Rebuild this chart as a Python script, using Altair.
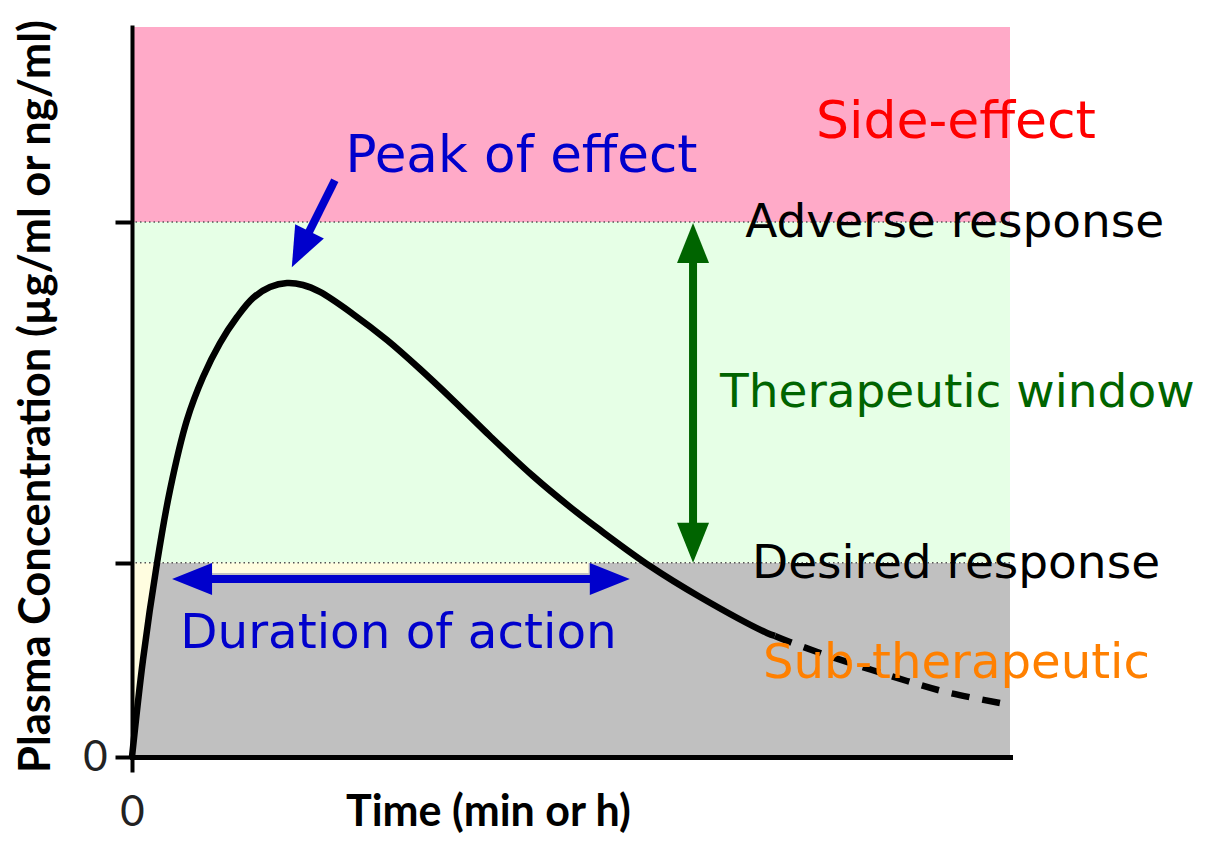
import altair as alt
import pandas as pd

# ---------------- data (arbitrary units 0-100) ----------------
time_solid = [0, 1.25, 2.85, 4.33, 6.26, 8.09, 10.02, 11.96, 13.78, 15.72, 17.65, 19.48,
              21.41, 25.17, 29.04, 32.80, 36.56, 40.77, 45.67, 49.89, 53.30, 58.99, 64.69,
              72.32, 73.23]
conc_solid = [0, 13.29, 26.58, 36.58, 46.16, 52.05, 56.71, 60.27, 62.88, 64.38, 64.93, 64.66,
              63.70, 60.68, 57.12, 53.15, 48.90, 43.97, 38.49, 34.25, 31.10, 26.16, 21.92,
              16.99, 16.58]
time_tail = [73.23, 74.94, 79.38, 84.28, 88.27, 92.71, 98.86]
conc_tail = [16.58, 15.75, 13.84, 11.92, 10.41, 8.90, 7.40]

time_max = 100
conc_max = 100
desired_level = 26.6
adverse_level = 73.3

zone_names = ["Side-effect", "Therapeutic", "Sub-therapeutic"]
zone_low = [adverse_level, desired_level, 0]
zone_high = [conc_max, adverse_level, desired_level]

strip_time = [9.1, 52.0]
strip_conc = [25.2, desired_level]

label_text = ["Side-effect", "Peak of effect", "Adverse response", "Therapeutic window",
              "Desired response", "Duration of action", "Sub-therapeutic"]
label_time = [93.85, 44.36, 93.7, 94.0, 93.85, 30.35, 93.9]
label_conc = [84.8, 80.1, 71.2, 47.9, 24.5, 14.9, 10.8]

# arrows (tips, shaft ends, head direction in degrees clockwise from "up")
duration_conc = 24.4
duration_tips = [4.56, 56.7]
duration_shaft = [8.8, 52.4]
duration_dirs = [270, 90]

window_time = 63.9
window_tips = [adverse_level - 0.15, desired_level]
window_shaft = [68.1, 31.6]
window_dirs = [0, 180]

peak_tail = [23.1, 79.0]
peak_shaft_end = [19.7, 70.8]
peak_tip = [18.2, 67.1]
peak_dir = 206.3

# ---------------- chart ----------------
X = alt.Scale(domain=[0, time_max], nice=False, zero=False)
Y = alt.Scale(domain=[0, conc_max], nice=False, zero=False)

x_axis = alt.Axis(values=[0], title="Time (min or h)", grid=False, zindex=1,
                  domainColor="black", domainWidth=5, domainCap="square",
                  tickColor="black", tickWidth=4, tickSize=15,
                  labelFont="Lato", labelFontSize=42, labelColor="#222222",
                  labelPadding=20, labelFlush=False,
                  titleFont="Lato", titleFontSize=43, titleFontWeight="bold",
                  titleColor="black", titleX=356, titleY=68, titleAlign="center",
                  titleBaseline="alphabetic")
y_axis = alt.Axis(values=[0, desired_level, adverse_level],
                  labelExpr="datum.value == 0 ? '0' : ''",
                  title="Plasma Concentration (µg/ml or ng/ml)", grid=False, zindex=1,
                  domainColor="black", domainWidth=4, domainCap="square",
                  tickColor="black", tickWidth=4, tickSize=17,
                  labelFont="Lato", labelFontSize=42, labelColor="#222222",
                  labelPadding=8,
                  titleFont="Lato", titleFontSize=43.5, titleFontWeight="bold",
                  titleColor="black", titleX=-83, titleY=369, titleAlign="center",
                  titleBaseline="alphabetic", titleAngle=270)


def xq(field):
    return alt.X(field, type="quantitative", scale=X, axis=x_axis)


def yq(field):
    return alt.Y(field, type="quantitative", scale=Y, axis=y_axis)


zones = pd.DataFrame({"zone": zone_names, "lo": zone_low, "hi": zone_high,
                      "t0": [0] * 3, "t1": [time_max] * 3})
bands = alt.Chart(zones).mark_rect().encode(
    x=xq("t0"), x2="t1", y=yq("lo"), y2="hi",
    color=alt.Color("zone:N", legend=None,
                    scale=alt.Scale(domain=zone_names,
                                    range=["#FFAAC8", "#E6FFE6", "#FFFDE0"])),
)

rise = pd.DataFrame({"t": time_solid[:3], "c": conc_solid[:3], "tmax": [time_max] * 3})
grey = alt.Chart(rise).mark_area(color="#C0C0C0", orient="horizontal", opacity=1).encode(
    y=yq("c"), x=xq("t"), x2="tmax")

strip = alt.Chart(pd.DataFrame({"a": [strip_time[0]], "b": [strip_time[1]],
                                "c": [strip_conc[0]], "d": [strip_conc[1]]})).mark_rect(
    color="#FFFDE0").encode(x=xq("a"), x2="b", y=yq("c"), y2="d")

levels = alt.Chart(pd.DataFrame({"c": [desired_level, adverse_level]})).mark_rule(
    color="#555555", strokeWidth=1.5, strokeDash=[1.5, 3]).encode(y=yq("c"))

solid = alt.Chart(pd.DataFrame({"t": time_solid, "c": conc_solid})).mark_line(
    color="black", strokeWidth=6.5, interpolate="catmull-rom").encode(
    x=xq("t"), y=yq("c"))

dashed = alt.Chart(pd.DataFrame({"t": time_tail, "c": conc_tail})).mark_line(
    color="black", strokeWidth=6.5, interpolate="catmull-rom", strokeDash=[18, 13]).encode(
    x=xq("t"), y=yq("c"))

HEAD = "M0,0L0.8,2L-0.8,2Z"


def heads(ts, cs, dirs, color):
    df = pd.DataFrame({"t": ts, "c": cs, "dir": dirs})
    return alt.Chart(df).mark_point(shape=HEAD, filled=True, size=1600, opacity=1,
                                    strokeWidth=0, color=color).encode(
        x=xq("t"), y=yq("c"), angle=alt.Angle("dir:Q", scale=None))


BLUE = "#0000CC"
GREEN = "#006400"

dur_shaft = alt.Chart(pd.DataFrame({"a": [duration_shaft[0]], "b": [duration_shaft[1]],
                                    "c": [duration_conc]})).mark_rule(
    color=BLUE, strokeWidth=8).encode(x=xq("a"), x2="b", y=yq("c"))
dur_heads = heads(duration_tips, [duration_conc] * 2, duration_dirs, BLUE)

win_shaft = alt.Chart(pd.DataFrame({"t": [window_time], "a": [window_shaft[0]],
                                    "b": [window_shaft[1]]})).mark_rule(
    color=GREEN, strokeWidth=8).encode(x=xq("t"), y=yq("a"), y2="b")
win_heads = heads([window_time] * 2, window_tips, window_dirs, GREEN)

pk_shaft = alt.Chart(pd.DataFrame({"t0": [peak_tail[0]], "c0": [peak_tail[1]],
                                   "t1": [peak_shaft_end[0]], "c1": [peak_shaft_end[1]]})).mark_rule(
    color=BLUE, strokeWidth=8).encode(x=xq("t0"), y=yq("c0"), x2="t1", y2="c1")
pk_head = heads([peak_tip[0]], [peak_tip[1]], [peak_dir], BLUE)

label_style = {
    "Side-effect": ("#FF0000", 52),
    "Peak of effect": (BLUE, 51.5),
    "Adverse response": ("black", 47),
    "Therapeutic window": (GREEN, 47),
    "Desired response": ("black", 47),
    "Duration of action": (BLUE, 48.4),
    "Sub-therapeutic": ("#FF8000", 48.2),
}

texts = []
for txt, t, c in zip(label_text, label_time, label_conc):
    col, fs = label_style[txt]
    texts.append(
        alt.Chart(pd.DataFrame({"label": [txt], "t": [t], "c": [c]})).mark_text(
            font="DejaVu Sans", fontSize=fs, color=col, align="center",
            baseline="alphabetic").encode(x=xq("t"), y=yq("c"), text="label:N"))

chart = alt.layer(
    bands, grey, strip, levels, solid, dashed,
    dur_shaft, dur_heads, win_shaft, win_heads, pk_shaft, pk_head,
    *texts,
).properties(
    width=878, height=730,
    autosize=alt.AutoSizeParams(type="none"),
    padding={"left": 124, "top": 19, "right": 188, "bottom": 76},
).configure_view(stroke=None)

chart.save("out.html", embed_options={"renderer": "svg", "actions": False})
